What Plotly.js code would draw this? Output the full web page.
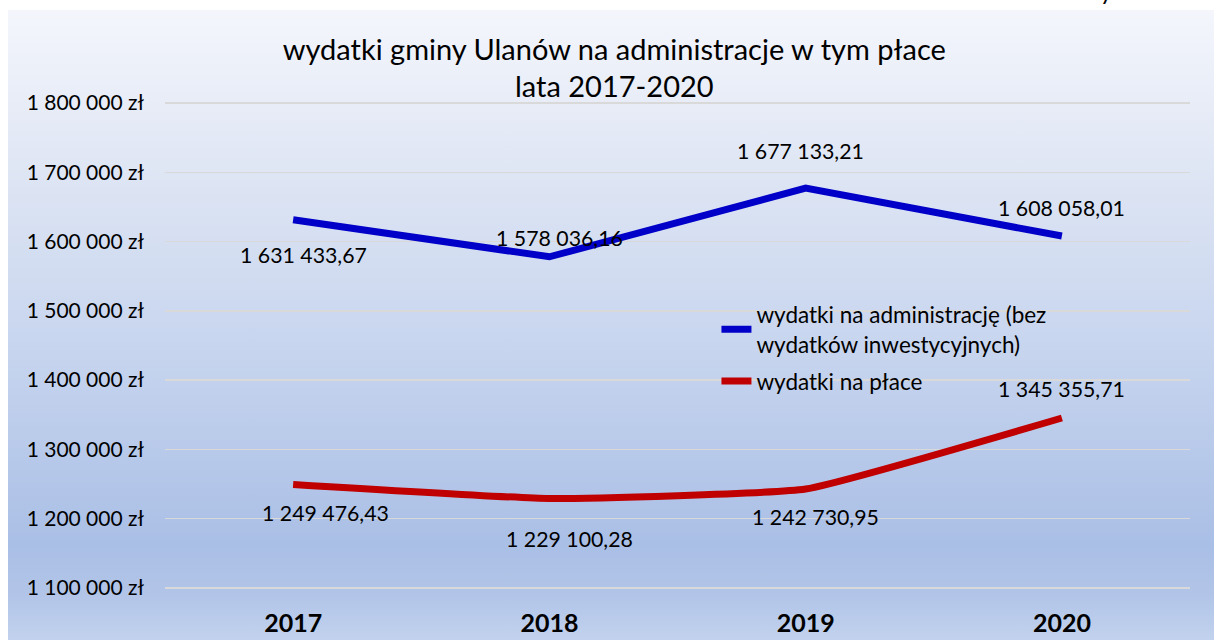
<!DOCTYPE html>
<html>
<head>
<meta charset="utf-8">
<script src="https://cdn.plot.ly/plotly-3.0.1.min.js"></script>
<style>
  html, body { margin: 0; padding: 0; width: 1214px; height: 640px; overflow: hidden; background: #ffffff; }
  #bg { position: absolute; left: 8px; top: 10px; width: 1206px; height: 630px;
        background: linear-gradient(to bottom, #f4f6fc 0%, #dfe6f4 25%, #c6d4ee 55%, #aabfe6 85%, #b2c5e8 93%, #c2d2ee 100%); }
  #chart { position: absolute; left: 0; top: 0; width: 1214px; height: 640px; }
</style>
</head>
<body>
<div id="bg"></div>
<div id="chart"></div>
<script>
const years = ['2017', '2018', '2019', '2020'];
const adminValues = [1631433.67, 1578036.16, 1677133.21, 1608058.01];
const wageValues = [1249476.43, 1229100.28, 1242730.95, 1345355.71];
const adminLabels = ['1 631 433,67', '1 578 036,16', '1 677 133,21', '1 608 058,01'];
const wageLabels = ['1 249 476,43', '1 229 100,28', '1 242 730,95', '1 345 355,71'];
const yTickVals = [1100000, 1200000, 1300000, 1400000, 1500000, 1600000, 1700000, 1800000];
const yTickText = ['1 100 000 zł', '1 200 000 zł', '1 300 000 zł', '1 400 000 zł', '1 500 000 zł', '1 600 000 zł', '1 700 000 zł', '1 800 000 zł'];

const FONT = 'Lato, Calibri, Carlito, sans-serif';

// label offsets (pixels) per point
const adminShift = [[10, -35], [10, 19], [-5, 37], [0, 28]];
const wageShift = [[32, -29], [20, -40], [10, -28], [0, 29]];

const annotations = [];
adminValues.forEach((v, i) => annotations.push({
  x: i, y: v, xref: 'x', yref: 'y', text: adminLabels[i], showarrow: false,
  xshift: adminShift[i][0], yshift: adminShift[i][1],
  font: {family: FONT, size: 21.3, color: '#000000'}
}));
wageValues.forEach((v, i) => annotations.push({
  x: i, y: v, xref: 'x', yref: 'y', text: wageLabels[i], showarrow: false,
  xshift: wageShift[i][0], yshift: wageShift[i][1],
  font: {family: FONT, size: 21.3, color: '#000000'}
}));
// fragment of a glyph cut off at the very top of the picture
annotations.push({x: 0.919, y: 1.196, xref: 'paper', yref: 'paper', text: 'y', showarrow: false,
  xanchor: 'center', yanchor: 'bottom', font: {family: FONT, size: 24, color: '#000000'}});

const traces = [
  {x: years, y: adminValues, type: 'scatter', mode: 'lines', legendgroup: 'a',
   name: 'wydatki na administrację (bez<br>wydatków inwestycyjnych)',
   line: {color: '#0000c8', width: 7}},
  {x: years, y: wageValues, type: 'scatter', mode: 'lines', legendgroup: 'b',
   name: 'wydatki na płace',
   line: {color: '#c00000', width: 7, shape: 'spline', smoothing: 0.35}}
];

const layout = {
  width: 1214, height: 640,
  paper_bgcolor: 'rgba(0,0,0,0)', plot_bgcolor: 'rgba(0,0,0,0)',
  margin: {l: 165, r: 24, t: 102, b: 51},
  title: {text: 'wydatki gminy Ulanów na administracje w tym płace<br>lata 2017-2020',
          font: {family: FONT, size: 29, color: '#000000'}, x: 0.506, xanchor: 'center', y: 0.907, yanchor: 'top'},
  showlegend: true,
  legend: {x: 0.538, y: 0.607, xanchor: 'left', yanchor: 'top', bgcolor: 'rgba(0,0,0,0)',
           traceorder: 'grouped', tracegroupgap: 5,
           font: {family: FONT, size: 22.5, color: '#000000'}},
  xaxis: {type: 'category', categoryorder: 'array', categoryarray: years, range: [-0.5, 3.5],
          showgrid: false, zeroline: false, showline: false, ticks: '', ticklabelstandoff: 17,
          tickfont: {family: FONT, size: 25, color: '#000000', weight: 'bold'}, fixedrange: true},
  yaxis: {range: [1098500, 1801500], tickvals: yTickVals, ticktext: yTickText,
          showgrid: true, gridcolor: '#d9d9d9', gridwidth: 1.5, zeroline: false, showline: false,
          ticks: '', ticklabelstandoff: 20,
          tickfont: {family: FONT, size: 21, color: '#000000'}, fixedrange: true},
  annotations: annotations
};

Plotly.newPlot('chart', traces, layout, {displayModeBar: false, staticPlot: true});
</script>
</body>
</html>
